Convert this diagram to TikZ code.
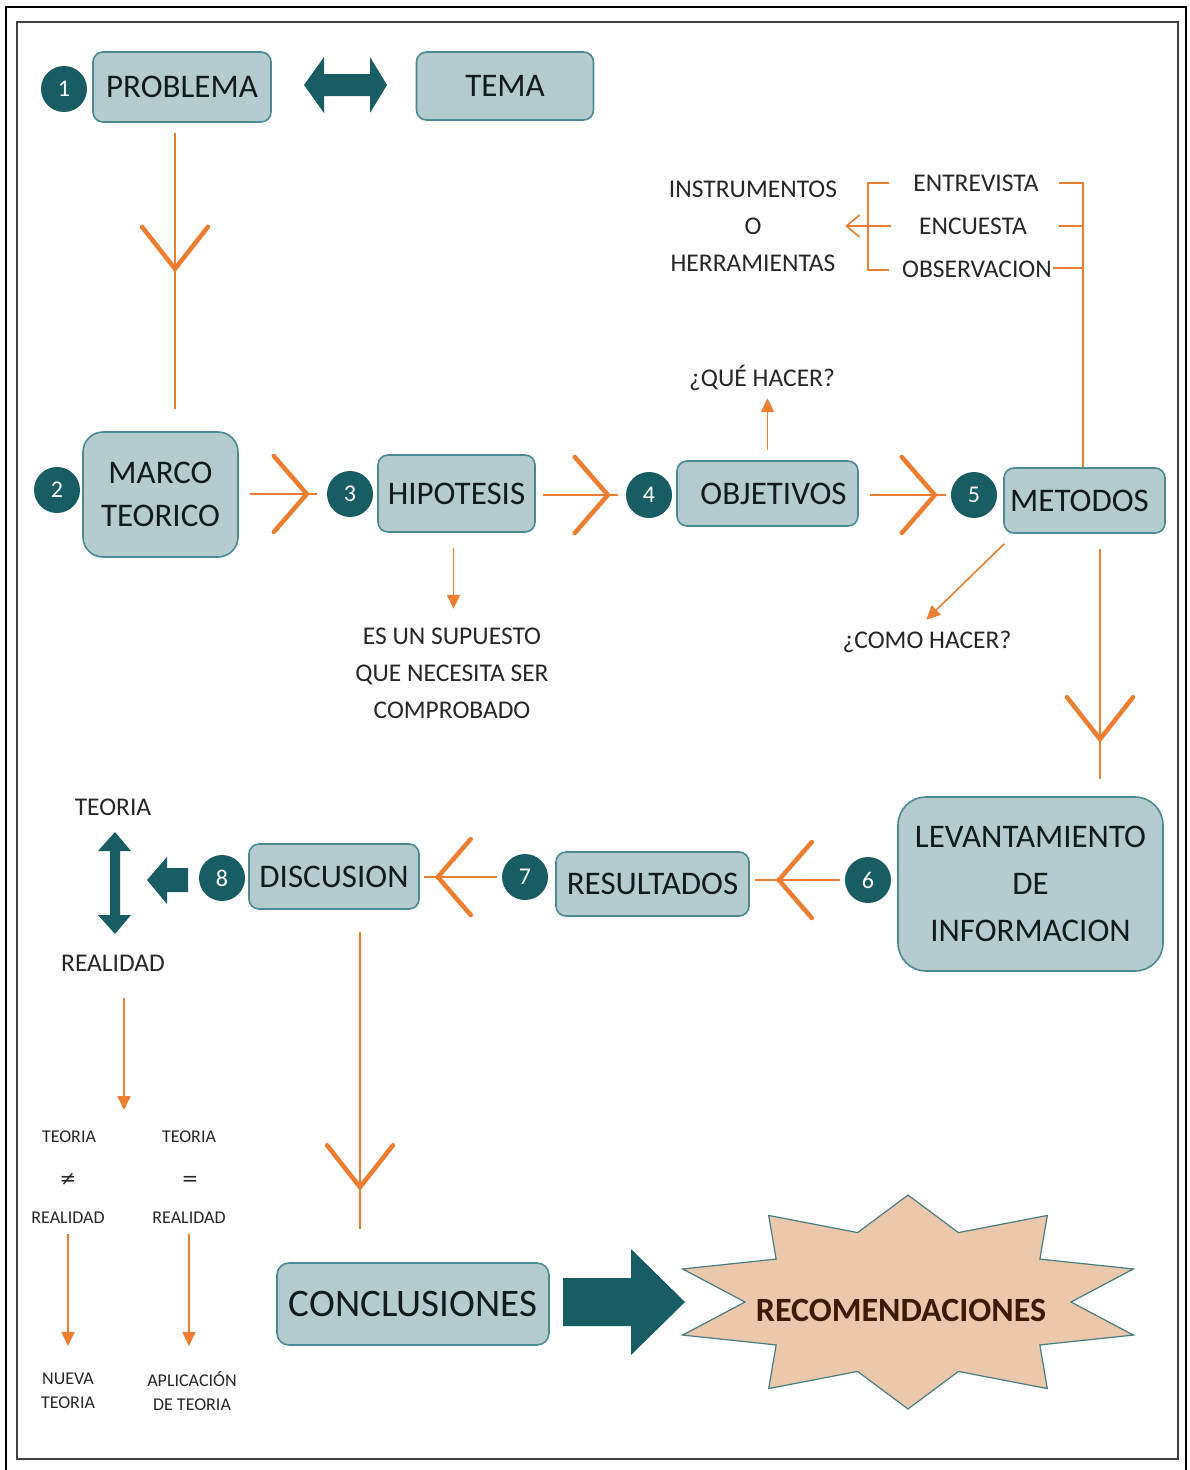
\documentclass[tikz,border=0pt]{standalone}
\usepackage{fontspec}
\setmainfont{Carlito}
\newfontfamily\symbolfont{DejaVu Sans}
\usetikzlibrary{arrows.meta,calc}

\definecolor{tealdark}{HTML}{185C64}
\definecolor{boxfill}{HTML}{B5CCCF}
\definecolor{boxline}{HTML}{4B8A90}
\definecolor{orng}{HTML}{ED7D31}
\definecolor{peach}{HTML}{EBC8AC}
\definecolor{brownt}{HTML}{3E1A06}
\definecolor{ink}{HTML}{101C1C}

\tikzset{
  box/.style={draw=boxline, fill=boxfill, line width=1.6pt, rounded corners=10pt,
    text=ink, font=\fontsize{33}{43}\selectfont, align=center, inner sep=0pt},
  num/.style={circle, fill=tealdark, text=white, minimum size=46pt, inner sep=0pt,
    font=\fontsize{24}{24}\selectfont},
  lbl/.style={text=black!85, font=\fontsize{25.5}{37}\selectfont, align=center, inner sep=0pt},
  smalltxt/.style={text=black!85, font=\fontsize{18}{24}\selectfont, align=center, inner sep=0pt},
  symtxt/.style={text=black!85, font=\symbolfont\fontsize{20}{24}\selectfont, inner sep=0pt},
  conn/.style={draw=orng, line width=1.6pt},
  connarrow/.style={conn, -{Triangle[length=14pt,width=13pt]}},
  chev/.style={draw=orng, line width=4.5pt, line cap=round, line join=miter},
  blockarrow/.style={fill=tealdark},
  pics/chevright/.style={code={\draw[chev] (-33,-38) -- (0,0) -- (-33,38);}},
  pics/chevleft/.style={code={\draw[chev] (33,-38) -- (0,0) -- (33,38);}},
  pics/chevdown/.style={code={\draw[chev] (-33,-42) -- (0,0) -- (33,-42);}},
}

\begin{document}
\begin{tikzpicture}[x=1pt,y=-1pt]
\useasboundingbox (0,0) rectangle (1189,1470);

% page frames
\draw[line width=1.3pt] (6,1480) -- (6,7) -- (1186,7) -- (1186,1480);
\draw[line width=2.2pt, black!75] (17,22) rectangle (1178,1459);

% ---------- boxes ----------
\node[box, minimum width=178pt, minimum height=70pt] (prob) at (182,87) {PROBLEMA};
\node[box, minimum width=177pt, minimum height=68pt] (tema) at (505,86) {TEMA};
\node[box, rounded corners=20pt, minimum width=155pt, minimum height=125pt] (marco) at (160.5,494.5) {MARCO\\TEORICO};
\node[box, minimum width=157pt, minimum height=77pt] (hip) at (456.5,493.5) {HIPOTESIS};
\node[box, minimum width=181pt, minimum height=65pt] (obj) at (767.5,493.5) {\hspace*{12pt}OBJETIVOS};
\node[box, minimum width=161pt, minimum height=65pt] (met) at (1084.5,500.5) {METODOS\hspace*{10pt}};
\node[box, rounded corners=28pt, minimum width=265pt, minimum height=174pt, font=\fontsize{33}{47}\selectfont] (lev) at (1030.5,884) {LEVANTAMIENTO\\DE\\INFORMACION};
\node[box, minimum width=193pt, minimum height=64pt] (res) at (652.5,884) {RESULTADOS};
\node[box, minimum width=170pt, minimum height=65pt] (disc) at (334,876.5) {DISCUSION};
\node[box, rounded corners=12pt, minimum width=272pt, minimum height=82pt, font=\fontsize{39}{43}\selectfont] (conc) at (413,1304) {CONCLUSIONES};

% ---------- step numbers ----------
\node[num] (n1) at (64,89) {1};
\node[num] (n2) at (57,490) {2};
\node[num] (n3) at (350,494) {3};
\node[num] (n4) at (649,495) {4};
\node[num] (n5) at (974,495) {5};
\node[num] (n6) at (868,880) {6};
\node[num] (n7) at (525,877) {7};
\node[num] (n8) at (222,878) {8};

% ---------- labels ----------
\node[lbl] (instr) at (753,226) {INSTRUMENTOS\\O\\HERRAMIENTAS};
\node[lbl] (ent) at (976,183) {ENTREVISTA};
\node[lbl] (enc) at (973,226) {ENCUESTA};
\node[lbl] (obs) at (977,269) {OBSERVACION};
\node[lbl] (que) at (762,378) {¿QUÉ HACER?};
\node[lbl] (como) at (927,642) {¿COMO HACER?};
\node[lbl] (sup) at (452,673) {ES UN SUPUESTO\\QUE NECESITA SER\\COMPROBADO};
\node[lbl] (teo) at (113,807) {TEORIA};
\node[lbl] (real) at (113,963) {REALIDAD};

\node[smalltxt] (teoA) at (69,1137) {TEORIA};
\node[symtxt] (neq) at (68,1179) {≠};
\node[smalltxt] (realA) at (68,1218) {REALIDAD};
\node[smalltxt] (teoB) at (189,1137) {TEORIA};
\node[symtxt] (eq) at (190,1181) {=};
\node[smalltxt] (realB) at (189,1218) {REALIDAD};
\node[smalltxt] (nueva) at (68,1391) {NUEVA\\TEORIA};
\node[smalltxt] (aplic) at (192,1391) {APLICACIÓN\\DE TEORIA};

% ---------- recommendations burst ----------
\filldraw[fill=peach, draw=tealdark!80, line width=1.2pt] (908,1195)
  \foreach \k in {0,...,9} {
    -- ({908+163*cos(108+36*\k)},{1302-73*sin(108+36*\k)})
    -- ({908+237*cos(126+36*\k)},{1302-107*sin(126+36*\k)})
  } -- cycle;
\node[font=\bfseries\fontsize{34}{40}\selectfont, text=brownt, inner sep=0pt] (rec) at (901,1310) {RECOMENDACIONES};

% ---------- block arrows ----------
\fill[blockarrow] (304,85) -- (324,57) -- (324,74) -- (370,74) -- (370,57) -- (387,85)
  -- (370,113) -- (370,96) -- (324,96) -- (324,113) -- cycle;
\fill[blockarrow] (115,832) -- (131,851) -- (120,851) -- (120,915) -- (131,915) -- (115,934)
  -- (98,915) -- (110,915) -- (110,851) -- (98,851) -- cycle;
\fill[blockarrow] (147,880) -- (167,857) -- (167,868) -- (188,868) -- (188,892) -- (167,892)
  -- (167,904) -- cycle;
\fill[blockarrow] (563,1278) -- (631,1278) -- (631,1249) -- (685,1302) -- (631,1355)
  -- (631,1326) -- (563,1326) -- cycle;

% ---------- main flow ----------
% 1 -> 2
\draw[conn] ([xshift=-7pt,yshift=-10pt]prob.south) -- ([xshift=14.5pt,yshift=22pt]marco.north);
\pic at ([xshift=-7pt,yshift=-146pt]prob.south) {chevdown};
% 2 -> 3
\draw[conn] ($(marco.east |- n3.west)+(11,0)$) -- ([xshift=-10pt]n3.west);
\pic at ([xshift=-20pt]n3.west) {chevright};
% 3 -> 4
\draw[conn] ($(hip.east |- n4.west)+(7,0)$) -- ([xshift=-8pt]n4.west);
\pic at ([xshift=-18pt]n4.west) {chevright};
% 4 -> 5
\draw[conn] ($(obj.east |- n5.west)+(11,0)$) -- ([xshift=-5pt]n5.west);
\pic at ([xshift=-16pt]n5.west) {chevright};
% 5 -> 6
\coordinate (d5) at ([xshift=15.5pt,yshift=-15pt]met.south);
\draw[conn] (d5) -- ([yshift=17pt]d5 |- lev.north);
\pic at ([yshift=57pt]d5 |- lev.north) {chevdown};
% 6 -> 7
\draw[conn] ([xshift=-5pt]n6.west) -- ($(res.east |- n6.west)+(5,0)$);
\pic at ($(res.east |- n6.west)+(29,0)$) {chevleft};
% 7 -> 8
\draw[conn] ([xshift=-5pt]n7.west) -- ($(disc.east |- n7.west)+(4,0)$);
\pic at ($(disc.east |- n7.west)+(18,0)$) {chevleft};
% discussion -> conclusions
\coordinate (d8) at ([xshift=26pt,yshift=-22pt]disc.south);
\draw[conn] (d8) -- ([yshift=33pt]d8 |- conc.north);
\pic at ([yshift=75pt]d8 |- conc.north) {chevdown};

% ---------- side notes ----------
\draw[connarrow] ([yshift=10pt]obj.north) -- ([yshift=62pt]obj.north);
\coordinate (h3) at ([xshift=-3pt,yshift=-15pt]hip.south);
\draw[connarrow] (h3) -- ([yshift=-61pt]h3);
\draw[connarrow] ([xshift=1pt,yshift=-10pt]met.south west) -- ([xshift=-77pt,yshift=-86pt]met.south west);

% methods bracket and instruments
\coordinate (rbTop) at (1083,183);
\draw[conn] ([xshift=-1.5pt]met.north) -- (rbTop) -- (1059,183);
\draw[conn] (1083,226) -- (1059,226);
\draw[conn] (1083,268) -- (1053,268);
\draw[conn] (889,183) -- (868,183) -- (868,270) -- (889,270);
\draw[conn, -{Straight Barb[length=13pt,width=22pt]}] (891,226) -- ([xshift=8pt]instr.east |- enc);

% theory vs reality outcomes
\draw[connarrow] ([xshift=11pt,yshift=-35pt]real.center) -- ([xshift=11pt,yshift=-147pt]real.center);
\draw[connarrow] ([yshift=-10pt]realA.south) -- ([yshift=-122pt]realA.south);
\draw[connarrow] ([yshift=-10pt]realB.south) -- ([yshift=-122pt]realB.south);

\end{tikzpicture}
\end{document}
